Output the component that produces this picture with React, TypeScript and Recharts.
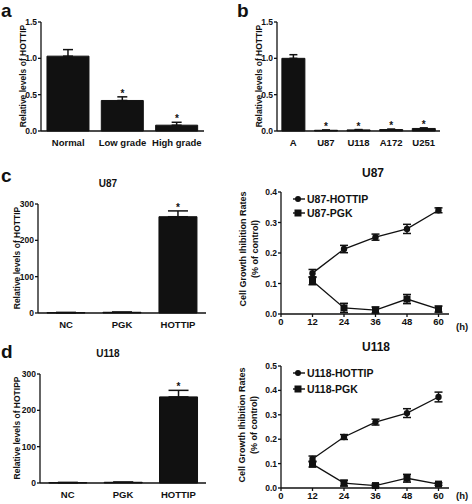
import React from "react";
import { ComposedChart, Bar, Line, XAxis, YAxis, ErrorBar, Legend } from "recharts";

const FONT = "'Liberation Sans', Arial, sans-serif";
const INK = "#111";

// a: tissue grades
const gradeCats = ["Normal", "Low grade", "High grade"];
const gradeVals = [1.03, 0.42, 0.08];
const gradeErr = [0.09, 0.05, 0.04];
const gradeStar = [false, true, true];

// b: cell lines
const cellCats = ["A", "U87", "U118", "A172", "U251"];
const cellVals = [1.0, 0.01, 0.015, 0.02, 0.035];
const cellErr = [0.05, 0.004, 0.005, 0.006, 0.008];
const cellStar = [false, true, true, true, true];

// c/d left: transfection levels
const transCats = ["NC", "PGK", "HOTTIP"];
const u87Levels = [1, 2, 265];
const u87LevelErr = [0.5, 0.5, 16];
const u118Levels = [1, 2, 237];
const u118LevelErr = [0.5, 0.5, 18];
const transStar = [false, false, true];

// c/d right: growth inhibition
const hours = [12, 24, 36, 48, 60];
const hourTicks = [0, 12, 24, 36, 48, 60];
const u87Hottip = [0.134, 0.213, 0.252, 0.279, 0.34];
const u87HottipErr = [0.012, 0.012, 0.01, 0.015, 0.008];
const u87Pgk = [0.108, 0.02, 0.013, 0.049, 0.016];
const u87PgkErr = [0.012, 0.015, 0.01, 0.015, 0.01];
const u118Hottip = [0.119, 0.209, 0.27, 0.307, 0.373];
const u118HottipErr = [0.012, 0.01, 0.012, 0.018, 0.02];
const u118Pgk = [0.098, 0.02, 0.01, 0.04, 0.016];
const u118PgkErr = [0.012, 0.012, 0.006, 0.016, 0.005];

const starDot = (p: any) => {
  if (p.value == null || p.cy == null) return <g key={p.key} />;
  return (
    <text key={p.key} x={p.cx} y={p.cy} textAnchor="middle" fontFamily={FONT} fontWeight="bold" fontSize={10} fill={INK}>
      *
    </text>
  );
};

function LevelChart(props: any) {
  const { cats, vals, errs, stars, width, height, top, right, yWidth, xHeight, domain, ticks, cap, gap, fmt } = props;
  const rows = cats.map((c: string, i: number) => ({
    name: c,
    v: vals[i],
    e: [0, errs[i]],
    star: stars[i] ? vals[i] + errs[i] : null,
  }));
  return (
    <ComposedChart width={width} height={height} data={rows} margin={{ top, right, bottom: 0, left: 0 }} barCategoryGap={gap}>
      <XAxis dataKey="name" height={xHeight} tickLine={false} axisLine={{ stroke: INK, strokeWidth: 1.3 }}
        tick={{ fill: INK, fontSize: 9.5, fontWeight: "bold", fontFamily: FONT }} interval={0} />
      <YAxis width={yWidth} domain={domain} ticks={ticks} tickSize={3} tickMargin={1} tickFormatter={fmt}
        axisLine={{ stroke: INK, strokeWidth: 1.3 }} tickLine={{ stroke: INK, strokeWidth: 1.3 }}
        tick={{ fill: INK, fontSize: 8.5, fontWeight: "bold", fontFamily: FONT }} />
      <Bar dataKey="v" fill={INK} stroke={INK} strokeWidth={1} isAnimationActive={false}>
        <ErrorBar dataKey="e" direction="y" width={cap} stroke={INK} strokeWidth={1.5} />
      </Bar>
      <Line dataKey="star" stroke="none" dot={starDot} activeDot={false} isAnimationActive={false} legendType="none" />
    </ComposedChart>
  );
}

const SeriesKey = ({ names, rowH }: { names: string[]; rowH: number }) => (
  <div style={{ fontFamily: FONT, fontWeight: "bold", fontSize: 10.5, color: INK }}>
    {names.map((n, i) => (
      <div key={n} style={{ display: "flex", alignItems: "center", height: rowH }}>
        <svg width={12} height={10}>
          <line x1={0} x2={12} y1={5} y2={5} stroke={INK} strokeWidth={1.4} />
          {i === 0 ? <circle cx={5} cy={5} r={3} fill={INK} /> : <rect x={1.5} y={1.5} width={7} height={7} fill={INK} />}
        </svg>
        <span style={{ marginLeft: 2 }}>{n}</span>
      </div>
    ))}
  </div>
);

const circleDot = (p: any) => <circle key={p.key} cx={p.cx} cy={p.cy} r={3.2} fill={INK} />;
const squareDot = (p: any) => <rect key={p.key} x={p.cx - 3.5} y={p.cy - 3.5} width={7} height={7} fill={INK} />;

function GrowthChart(props: any) {
  const { names, hot, hotErr, pgk, pgkErr, height, top, xHeight, ymax, yTicks, legendTop, rowH } = props;
  const rows = hours.map((h, i) => ({ h, hot: hot[i], hotE: hotErr[i], pgk: pgk[i], pgkE: pgkErr[i] }));
  return (
    <ComposedChart width={236} height={height} data={rows} margin={{ top, right: 23, bottom: 0, left: 0 }}>
      <XAxis dataKey="h" type="number" domain={[0, 64]} ticks={hourTicks} height={xHeight} tickSize={3} tickMargin={1}
        axisLine={{ stroke: INK, strokeWidth: 1.3 }} tickLine={{ stroke: INK, strokeWidth: 1.3 }}
        tick={{ fill: INK, fontSize: 9.5, fontWeight: "bold", fontFamily: FONT }}
        label={{ value: "(h)", position: "right", offset: 7, fill: INK, fontSize: 9.5, fontWeight: "bold", fontFamily: FONT }} />
      <YAxis width={45} domain={[0, ymax]} ticks={yTicks} tickSize={3} tickMargin={1} tickFormatter={(v: number) => v.toFixed(1)}
        axisLine={{ stroke: INK, strokeWidth: 1.3 }} tickLine={{ stroke: INK, strokeWidth: 1.3 }}
        tick={{ fill: INK, fontSize: 8.5, fontWeight: "bold", fontFamily: FONT }} />
      <Legend layout="horizontal" verticalAlign="middle" align="center"
        wrapperStyle={{ left: 57, top: legendTop, width: "auto", bottom: "auto" }}
        content={() => <SeriesKey names={names} rowH={rowH} />} />
      <Line dataKey="hot" name={names[0]} stroke={INK} strokeWidth={1.3} dot={circleDot} activeDot={false} isAnimationActive={false}>
        <ErrorBar dataKey="hotE" direction="y" width={4} stroke={INK} strokeWidth={1.5} />
      </Line>
      <Line dataKey="pgk" name={names[1]} stroke={INK} strokeWidth={1.3} dot={squareDot} activeDot={false} isAnimationActive={false}>
        <ErrorBar dataKey="pgkE" direction="y" width={4} stroke={INK} strokeWidth={1.5} />
      </Line>
    </ComposedChart>
  );
}

const box = (left: number, top: number): React.CSSProperties => ({ position: "absolute", left, top });

// rotated axis title centred on (x, y)
const VText = ({ x, y, size, children }: { x: number; y: number; size: number; children: string }) => (
  <text x={x} y={y} transform={`rotate(-90 ${x} ${y})`} textAnchor="middle" dominantBaseline="central"
    fontFamily={FONT} fontWeight="bold" fontSize={size} fill={INK}>
    {children}
  </text>
);

export default function App() {
  const txt = { fontFamily: FONT, fontWeight: "bold" as const, fill: INK };
  return (
    <div style={{ position: "absolute", left: 0, top: 0, width: 472, height: 504, background: "#fff" }}>
      <div style={box(0, 0)}>
        <LevelChart cats={gradeCats} vals={gradeVals} errs={gradeErr} stars={gradeStar} width={236} height={160}
          top={22} right={32} yWidth={41} xHeight={29} domain={[0, 1.5]} ticks={[0, 0.5, 1, 1.5]} cap={5} gap="11%"
          fmt={(v: number) => v.toFixed(1)} />
      </div>
      <div style={box(236, 0)}>
        <LevelChart cats={cellCats} vals={cellVals} errs={cellErr} stars={cellStar} width={236} height={160}
          top={22} right={32} yWidth={41} xHeight={29} domain={[0, 1.5]} ticks={[0, 0.5, 1, 1.5]} cap={4} gap="15%"
          fmt={(v: number) => v.toFixed(1)} />
      </div>
      <div style={box(0, 160)}>
        <LevelChart cats={transCats} vals={u87Levels} errs={u87LevelErr} stars={transStar} width={236} height={180}
          top={44} right={30} yWidth={38} xHeight={27} domain={[0, 300]} ticks={[0, 100, 200, 300]} cap={10} gap="16%"
          fmt={(v: number) => String(v)} />
      </div>
      <div style={box(0, 340)}>
        <LevelChart cats={transCats} vals={u118Levels} errs={u118LevelErr} stars={transStar} width={236} height={164}
          top={34} right={30} yWidth={40} xHeight={21} domain={[0, 300]} ticks={[0, 100, 200, 300]} cap={10} gap="16%"
          fmt={(v: number) => String(v)} />
      </div>
      <div style={box(236, 160)}>
        <GrowthChart names={["U87-HOTTIP", "U87-PGK"]} hot={u87Hottip} hotErr={u87HottipErr} pgk={u87Pgk} pgkErr={u87PgkErr}
          height={180} top={32} xHeight={26} ymax={0.4} yTicks={[0, 0.1, 0.2, 0.3, 0.4]} legendTop={32} rowH={14} />
      </div>
      <div style={box(236, 340)}>
        <GrowthChart names={["U118-HOTTIP", "U118-PGK"]} hot={u118Hottip} hotErr={u118HottipErr} pgk={u118Pgk} pgkErr={u118PgkErr}
          height={164} top={26} xHeight={16} ymax={0.5} yTicks={[0, 0.1, 0.2, 0.3, 0.4, 0.5]} legendTop={25} rowH={16} />
      </div>
      <svg width={472} height={504} style={{ position: "absolute", left: 0, top: 0, pointerEvents: "none" }}>
        <text x={1} y={17} fontSize={19} {...txt}>a</text>
        <text x={237} y={17} fontSize={19} {...txt}>b</text>
        <text x={1} y={182} fontSize={19} {...txt}>c</text>
        <text x={1} y={358} fontSize={19} {...txt}>d</text>
        <text x={108} y={187} fontSize={10} textAnchor="middle" {...txt}>U87</text>
        <text x={108} y={357} fontSize={10} textAnchor="middle" {...txt}>U118</text>
        <text x={373} y={177} fontSize={12} textAnchor="middle" {...txt}>U87</text>
        <text x={376} y={351} fontSize={12} textAnchor="middle" {...txt}>U118</text>
        <VText x={23} y={76} size={8.5}>Relative levels of HOTTIP</VText>
        <VText x={259} y={76} size={8.5}>Relative levels of HOTTIP</VText>
        <VText x={17} y={258} size={8.5}>Relative levels of HOTTIP</VText>
        <VText x={17} y={428} size={8.5}>Relative levels of HOTIPP</VText>
        <VText x={243} y={249} size={9}>Cell Growth Ihibition Rates</VText>
        <VText x={255} y={249} size={9}>(% of control)</VText>
        <VText x={242} y={425} size={9}>Cell Growth Ihibition Rates</VText>
        <VText x={254} y={425} size={9}>(% of control)</VText>
      </svg>
    </div>
  );
}
